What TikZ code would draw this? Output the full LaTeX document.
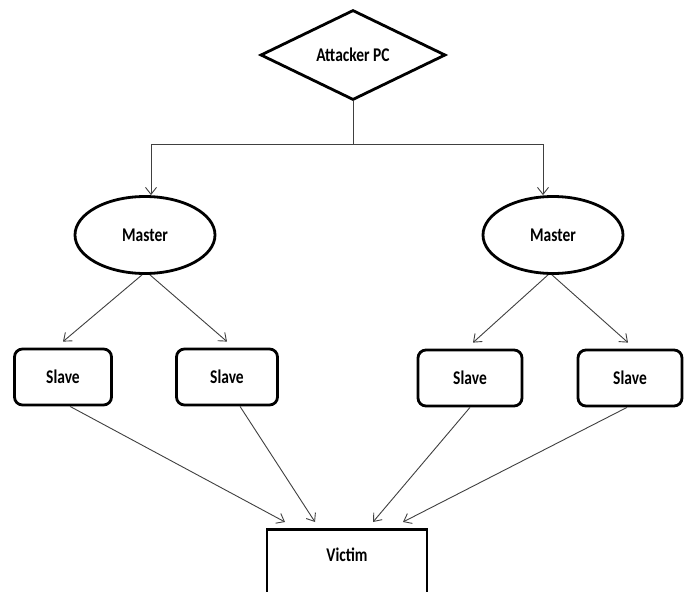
\documentclass[tikz,border=0pt]{standalone}
\usepackage{fontspec}
\usepackage{graphicx}
\setmainfont{Carlito}
\usetikzlibrary{shapes.geometric,arrows.meta,calc}
\newcommand\lbl[1]{\scalebox{1}[1.25]{\bfseries #1}}
\begin{document}
\begin{tikzpicture}[x=1pt,y=-1pt,
  every node/.style={font=\fontsize{15.5}{17}\selectfont},
  border/.style={draw=black, line width=2.8pt, fill=white},
  diamondbox/.style={border, diamond, aspect=2, inner sep=0pt, minimum width=185pt, minimum height=90pt},
  masterbox/.style={border, ellipse, inner sep=0pt, minimum width=140pt, minimum height=77pt},
  slavebox/.style={border, rectangle, rounded corners=8pt, inner sep=0pt, minimum width=100pt, minimum height=56pt},
  victimbox/.style={border, rectangle, inner xsep=0pt, inner ysep=22pt, minimum width=160pt, text height=10pt, text depth=24pt},
  conn/.style={draw=black!75, line width=0.9pt},
  arr/.style={conn, -{Straight Barb[length=7pt,width=11pt]}}]
\useasboundingbox (0,0) rectangle (689,592);
\fill[white] (0,0) rectangle (689,592);

\node[diamondbox] (atk) at (353,55) {\lbl{Attacker PC}};
\node[masterbox] (m1) at (145,235) {\lbl{Master}};
\node[masterbox] (m2) at (553,235) {\lbl{Master}};
\node[slavebox, minimum width=97pt] (s1) at (63,377) {\lbl{Slave}};
\node[slavebox, minimum width=101pt] (s2) at (227,377) {\lbl{Slave}};
\node[slavebox, minimum width=104pt] (s3) at (470,378) {\lbl{Slave}};
\node[slavebox, minimum width=104pt] (s4) at (630,378) {\lbl{Slave}};
\node[victimbox, anchor=north] (v) at (347,528) {\lbl{Victim}};

\coordinate (j) at (353,144);
\draw[conn] (atk.south) -- (j);
\draw[arr] (j) -| ([xshift=6pt]m1.north);
\draw[arr] (j) -| ([xshift=-10pt]m2.north);

\draw[arr] ([xshift=-3pt]m1.south) -- ([yshift=6pt]s1.north);
\draw[arr] ([xshift=5pt]m1.south) -- ([yshift=6pt]s2.north);
\draw[arr] ([xshift=-5pt]m2.south) -- ([xshift=3pt,yshift=6pt]s3.north);
\draw[arr] ([xshift=-1pt]m2.south) -- ([xshift=-2pt,yshift=6pt]s4.north);

\draw[arr] ([xshift=7pt]s1.south) -- ([xshift=-62pt,yshift=6pt]v.north);
\draw[arr] ([xshift=13pt]s2.south) -- ([xshift=-32pt,yshift=6pt]v.north);
\draw[arr] (s3.south) -- ([xshift=26pt,yshift=6pt]v.north);
\draw[arr] ([xshift=-3pt]s4.south) -- ([xshift=56pt,yshift=6pt]v.north);
\end{tikzpicture}
\end{document}
